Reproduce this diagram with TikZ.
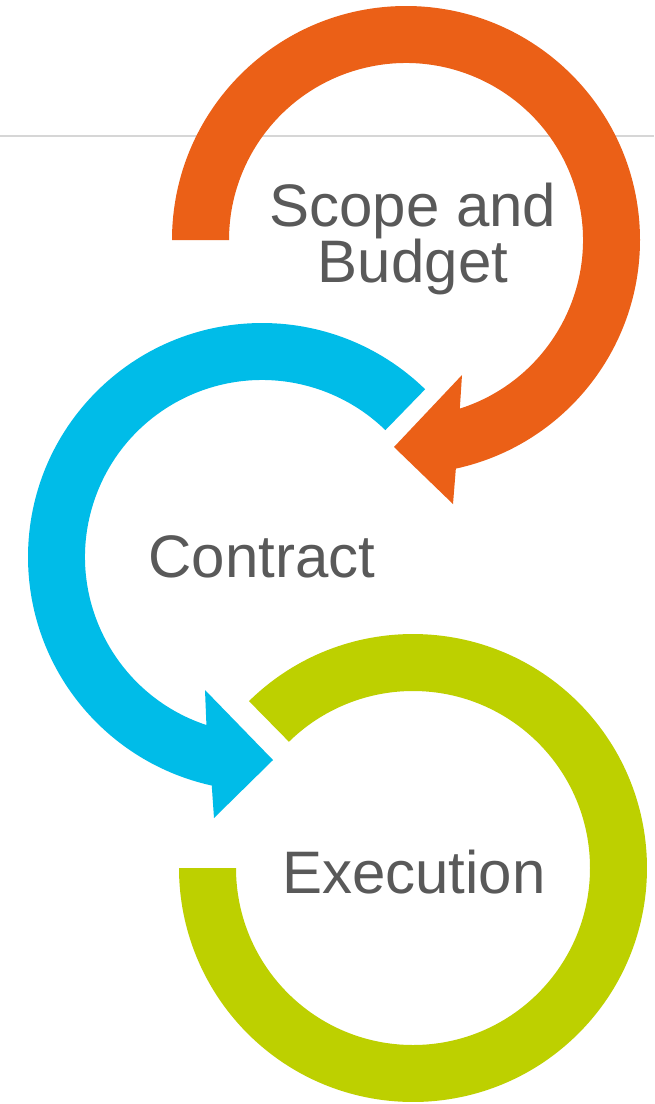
\documentclass[tikz,border=0pt]{standalone}
\usepackage{fontspec}
\setmainfont{Liberation Sans}
\usetikzlibrary{calc}
\definecolor{scopeorange}{RGB}{235,96,23}
\definecolor{contractblue}{RGB}{0,188,232}
\definecolor{execgreen}{RGB}{189,208,0}
\definecolor{labelgray}{RGB}{89,89,89}
\definecolor{rulegray}{RGB}{214,214,214}
\begin{document}
\begin{tikzpicture}[x=1pt,y=1pt,
  labeltext/.style={text=labelgray, font=\fontsize{60}{56}\selectfont,
    align=center, inner sep=0pt, anchor=base}]
\useasboundingbox (0,0) rectangle (654,-1104);
\fill[white] (0,0) rectangle (654,-1104);
% ring centres
\coordinate (O) at (406,-240);
\coordinate (B) at (262,-557);
\coordinate (G) at (413,-868);
% thin rule behind the top ring
\draw[rulegray, line width=2.5pt] (0,-136) -- (654,-136);
% orange ring with arrowhead
\fill[scopeorange] ($(O)+(180:234)$) arc[start angle=180, end angle=-77.7, radius=234]
  -- (453,-504) -- (394,-447) -- (462,-375)
  -- ($(O)+(-72.3:177)$) arc[start angle=-72.3, end angle=180, radius=177] -- cycle;
% blue ring with arrowhead
\fill[contractblue] ($(B)+(45.8:234)$) arc[start angle=45.8, end angle=257.6, radius=234]
  -- (214,-818) -- (273,-760) -- (205,-690)
  -- ($(B)+(251.7:177)$) arc[start angle=251.7, end angle=45.8, radius=177] -- cycle;
% green ring
\fill[execgreen] ($(G)+(134.5:234)$) arc[start angle=134.5, end angle=-180, radius=234]
  -- ($(G)+(180:177)$) arc[start angle=-180, end angle=134.5, radius=177] -- cycle;
% labels (a two-line node sits on the baseline of its last line)
\node[labeltext] (scope) at (413,-282) {Scope and\\Budget};
\node[labeltext] (contract) at (262,-577) {Contract};
\node[labeltext] (execution) at (414,-893) {Execution};
\end{tikzpicture}
\end{document}
